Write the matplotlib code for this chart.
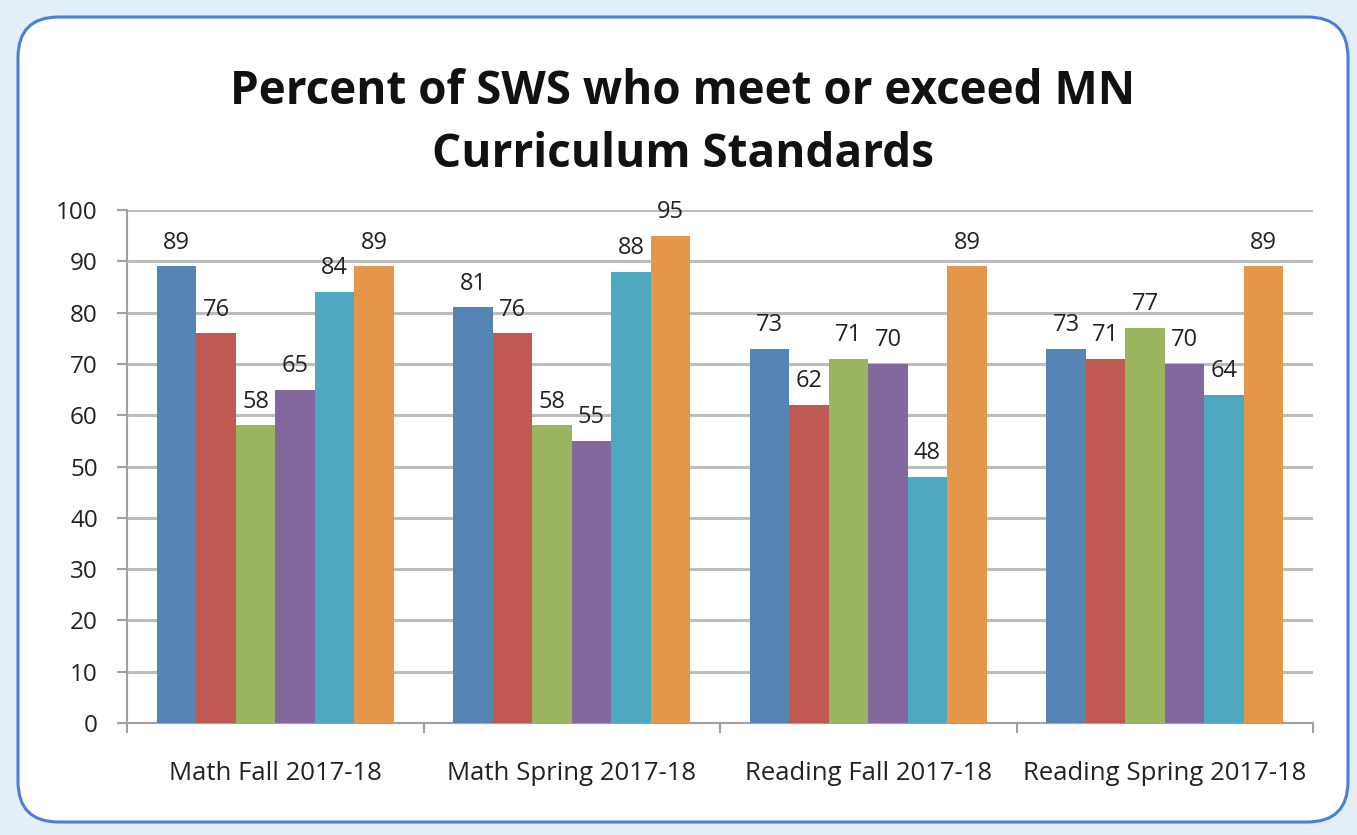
import matplotlib
matplotlib.use("Agg")
import matplotlib.pyplot as plt
from matplotlib.patches import FancyBboxPatch
import numpy as np

categories = ["Math Fall 2017-18", "Math Spring 2017-18", "Reading Fall 2017-18", "Reading Spring 2017-18"]
series_1 = [89, 81, 73, 73]
series_2 = [76, 76, 62, 71]
series_3 = [58, 58, 71, 77]
series_4 = [65, 55, 70, 70]
series_5 = [84, 88, 48, 64]
series_6 = [89, 95, 89, 89]
series = [series_1, series_2, series_3, series_4, series_5, series_6]
colors = ["#5585B5", "#BE5A52", "#9BB45E", "#8368A0", "#4EA8BF", "#E4964B"]
title = "Percent of SWS who meet or exceed MN\nCurriculum Standards"

plt.rcParams['font.family'] = ['Open Sans', 'DejaVu Sans']

W, H = 1357, 835
fig = plt.figure(figsize=(W / 100, H / 100), dpi=100)
fig.patch.set_facecolor("#E4EEF9")

frame = FancyBboxPatch((18 / W, 13 / H), (1348 - 18) / W, (822 - 17) / H,
                       boxstyle="round,pad=0,rounding_size=0.03",
                       transform=fig.transFigure, facecolor="white",
                       edgecolor="#4A7FD8", linewidth=2.2, mutation_aspect=W / H,
                       zorder=-10)
fig.patches.append(frame)

ax = fig.add_axes([127 / W, 112 / H, (1313 - 127) / W, (723 - 210) / H])
ax.set_facecolor("none")

n = len(series)
w = 0.1332
x = np.arange(len(categories))
for i, (vals, c) in enumerate(zip(series, colors)):
    pos = x + (i - (n - 1) / 2) * w
    ax.bar(pos, vals, width=w, color=c, zorder=3, linewidth=0)
    for p, v in zip(pos, vals):
        ax.annotate(str(v), (p, v), xytext=(0, 17), textcoords="offset points",
                    ha="center", va="center", fontsize=17, color="#222222", zorder=4)

ax.set_xlim(-0.5, len(categories) - 0.5)
ax.set_ylim(0, 100)
ax.set_yticks(np.arange(0, 101, 10))
ax.yaxis.grid(True, color="#BDBDBD", linewidth=2.2, zorder=0)
ax.set_axisbelow(True)

ax.set_xticks(np.arange(-0.5, len(categories), 1.0))
ax.set_xticklabels([])
ax.set_xticks(x, minor=True)
ax.set_xticklabels(categories, minor=True)
ax.tick_params(axis="x", which="major", length=7, width=1.5, color="#A0A0A0", direction="out")
ax.tick_params(axis="x", which="minor", length=0, pad=27, labelsize=18.5, labelcolor="#222222")
ax.tick_params(axis="y", length=7, width=1.5, color="#A0A0A0", pad=14, labelsize=17.5, labelcolor="#222222")

for s in ["top", "right"]:
    ax.spines[s].set_visible(False)
for s in ["left", "bottom"]:
    ax.spines[s].set_color("#A0A0A0")
    ax.spines[s].set_linewidth(1.5)

fig.text(683 / W, 1 - 123 / H, title, ha="center", va="center", fontsize=33,
         fontweight="bold", color="#111111", linespacing=1.45)

fig.savefig("out.png", dpi=100, facecolor=fig.get_facecolor())
